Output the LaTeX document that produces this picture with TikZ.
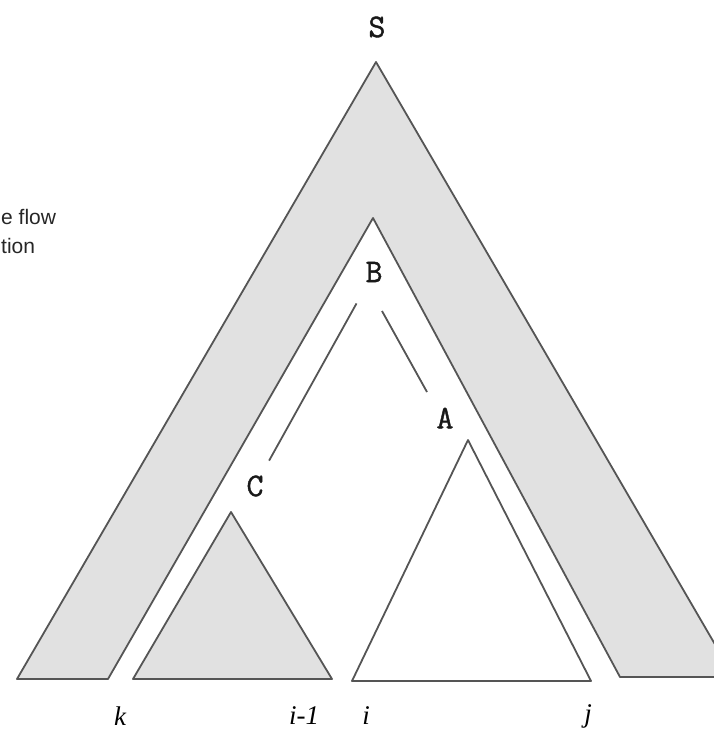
\documentclass[tikz,border=0pt]{standalone}
\usepackage{xcolor}
\usepackage{fontspec}
\newfontfamily\notefont{Liberation Sans}
\newfontfamily\idxfont{Liberation Serif}
\newfontfamily\symfont[FakeBold=1.2]{Latin Modern Mono}
\usetikzlibrary{positioning}

\definecolor{linegray}{HTML}{555555}
\definecolor{bandgray}{HTML}{E1E1E1}

\begin{document}
\begin{tikzpicture}[
    x=1pt, y=-1pt,
    band/.style={
        draw=linegray,
        fill=bandgray,
        line width=1.8pt,
        line join=round
    },
    leaf/.style={
        draw=linegray,
        line width=1.8pt,
        line join=round
    },
    sym/.style={
        font=\fontsize{33}{38}\selectfont\symfont,
        text=black!90,
        inner sep=2pt
    },
    idx/.style={
        font=\fontsize{27}{30}\selectfont\idxfont\itshape,
        text=black,
        inner sep=1pt
    },
    margintext/.style={
        font=\fontsize{21}{29}\selectfont\notefont,
        text=black!85,
        anchor=base west,
        inner sep=0pt
    },
    edge/.style={
        draw=linegray,
        line width=1.8pt
    }
]

\useasboundingbox (0,0) rectangle (714,734);
\clip (0,0) rectangle (714,734);

% outer band of S
\draw[band] (376,62) -- (17,679) -- (108,679) -- (373,218) -- (620,677) -- (734,677) -- cycle;

% subtrees
\draw[band] (231,512) -- (133,679) -- (332,679) -- cycle;
\draw[leaf, fill=white] (468,440) -- (352,681) -- (591,681) -- cycle;

% symbols
\node[sym] (S) at (377,27) {S};
\node[sym] (B) at (374,272) {B};
\node[sym] (A) at (445,418) {A};
\node[sym] (C) at (255,486) {C};

\coordinate (ba1) at (382,311);
\coordinate (ba2) at (427,392);

\draw[edge, shorten <=36pt, shorten >=29pt] (B.center) -- (C.center);
\draw[edge] (ba1) -- (ba2);

% positions
\node[idx] (k) at (120,716) {k};
\node[idx] (im1) at (304,716) {i-1};
\node[idx] (i) at (366,716) {i};
\node[idx] (j) at (588,716) {j};

% margin note
\node[margintext] (note1) at (1,224) {e flow};
\node[margintext] (note2) at (1,253) {tion};

\end{tikzpicture}
\end{document}
